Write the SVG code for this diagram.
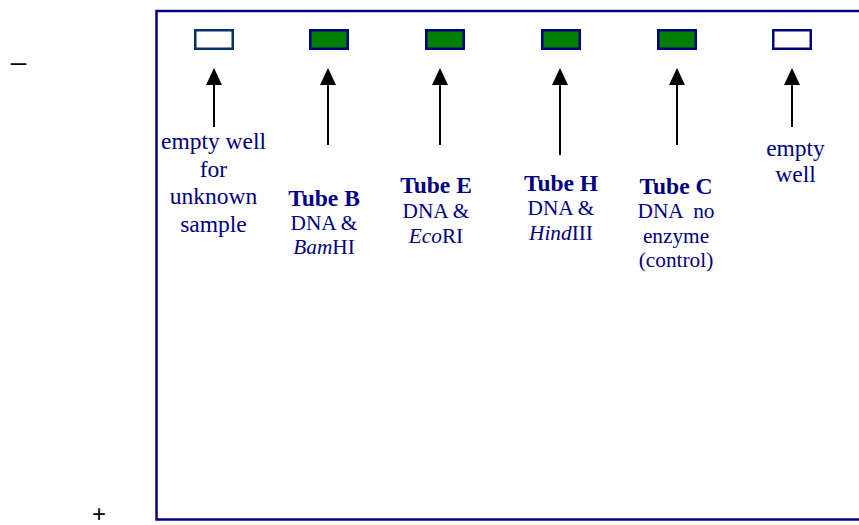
<svg xmlns="http://www.w3.org/2000/svg" width="859" height="525" viewBox="0 0 859 525">
  <style>
    .gel { fill: none; stroke: #000080; stroke-width: 2.5; }
    .well { stroke: #000080; stroke-width: 2.5; }
    .well.empty { fill: #ffffff; }
    .well.loaded { fill: #008000; }
    .lbl { font-family: "Liberation Serif", "Times New Roman", serif; fill: #000080; text-anchor: middle; }
    .big { font-size: 23.5px; }
    .small { font-size: 21.3px; }
    .bold { font-weight: bold; }
    .pole { font-family: "Liberation Sans", Arial, sans-serif; fill: #000000; text-anchor: middle; }
    .shaft { stroke: #000000; stroke-width: 2; fill: none; }
    .head { fill: #000000; }
  </style>

  <!-- electrode signs -->
  <text class="pole" x="18.5" y="71" font-size="28">–</text>
  <text class="pole" x="99" y="522" font-size="24">+</text>

  <!-- gel outline (open to the right) -->
  <path class="gel" d="M870,11 H156.5 V519.5 H870"/>

  <!-- wells -->
  <g id="well-unknown"><rect class="well empty" x="195.25" y="30.25" width="37.5" height="18.5" style="stroke:#003366"/></g>
  <g id="well-b"><rect class="well loaded" x="310.25" y="30.25" width="37.5" height="18.5"/></g>
  <g id="well-e"><rect class="well loaded" x="426.25" y="30.25" width="37.5" height="18.5"/></g>
  <g id="well-h"><rect class="well loaded" x="542.25" y="30.25" width="37.5" height="18.5"/></g>
  <g id="well-c"><rect class="well loaded" x="658.25" y="30.25" width="37.5" height="18.5"/></g>
  <g id="well-empty"><rect class="well empty" x="773.25" y="30.25" width="37.5" height="18.5"/></g>

  <!-- connectors: labels point up to their wells -->
  <g id="connectors">
    <path class="shaft" d="M214,84 V127"/>
    <path class="head" d="M214,68 L222,85 L206,85 Z"/>
    <path class="shaft" d="M328,84 V145"/>
    <path class="head" d="M328,68 L336,85 L320,85 Z"/>
    <path class="shaft" d="M440,84 V145"/>
    <path class="head" d="M440,68 L448,85 L432,85 Z"/>
    <path class="shaft" d="M560,84 V155"/>
    <path class="head" d="M560,68 L568,85 L552,85 Z"/>
    <path class="shaft" d="M677,84 V145"/>
    <path class="head" d="M677,68 L685,85 L669,85 Z"/>
    <path class="shaft" d="M792,84 V127"/>
    <path class="head" d="M792,68 L800,85 L784,85 Z"/>
  </g>

  <!-- labels -->
  <g id="label-unknown">
    <text class="lbl big" x="213.5" y="149">empty well</text>
    <text class="lbl big" x="213.5" y="177">for</text>
    <text class="lbl big" x="213.5" y="204">unknown</text>
    <text class="lbl big" x="213.5" y="232">sample</text>
  </g>
  <g id="label-b">
    <text class="lbl big bold" x="324" y="206">Tube B</text>
    <text class="lbl small" x="324" y="230">DNA &amp;</text>
    <text class="lbl small" x="324" y="254"><tspan font-style="italic">Bam</tspan>HI</text>
  </g>
  <g id="label-e">
    <text class="lbl big bold" x="436" y="193">Tube E</text>
    <text class="lbl small" x="436" y="218">DNA &amp;</text>
    <text class="lbl small" x="436" y="243"><tspan font-style="italic">Eco</tspan>RI</text>
  </g>
  <g id="label-h">
    <text class="lbl big bold" x="561" y="191">Tube H</text>
    <text class="lbl small" x="561" y="215">DNA &amp;</text>
    <text class="lbl small" x="561" y="240"><tspan font-style="italic">Hind</tspan>III</text>
  </g>
  <g id="label-c">
    <text class="lbl big bold" x="676" y="194">Tube C</text>
    <text class="lbl small" x="676" y="218" xml:space="preserve">DNA  no</text>
    <text class="lbl small" x="676" y="243">enzyme</text>
    <text class="lbl small" x="676" y="267">(control)</text>
  </g>
  <g id="label-empty">
    <text class="lbl big" x="795.5" y="156">empty</text>
    <text class="lbl big" x="795.5" y="182">well</text>
  </g>
</svg>
